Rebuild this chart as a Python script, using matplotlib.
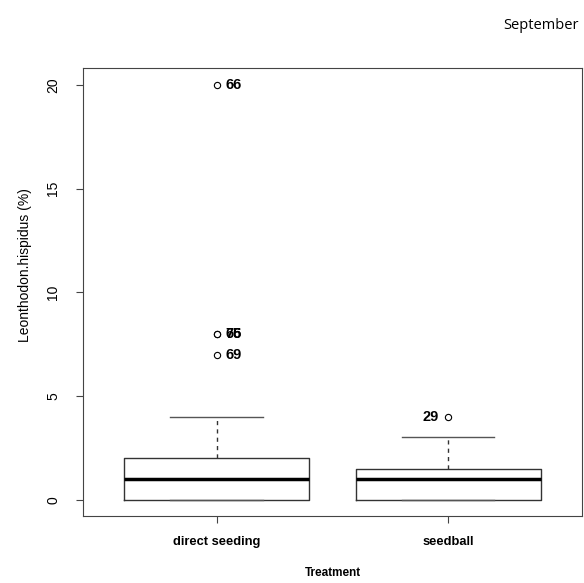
import matplotlib.pyplot as plt

plt.rcParams['font.family'] = ['Liberation Sans', 'DejaVu Sans']

# Summary statistics per treatment
treatments = ['direct seeding', 'seedball']
q1 = [0, 0]
medians = [1, 1]
q3 = [2, 1.5]
whisker_lo = [0, 0]
whisker_hi = [4, 3]
outliers = [[7, 8, 8, 20], [4]]
outlier_labels = [['69', '76', '65', '66'], ['29']]
label_side = [1, -1]

stats = []
for i, name in enumerate(treatments):
    stats.append({'label': name, 'q1': q1[i], 'med': medians[i], 'q3': q3[i],
                  'whislo': whisker_lo[i], 'whishi': whisker_hi[i],
                  'fliers': outliers[i]})

fig = plt.figure(figsize=(5.84, 5.83), dpi=100)
ax = fig.add_axes([0.1413, 0.1144, 0.856, 0.7684])

ax.bxp(stats, positions=[1, 2], widths=0.8,
       boxprops=dict(color='#333333', linewidth=1),
       medianprops=dict(color='black', linewidth=2.5),
       whiskerprops=dict(color='#333333', linewidth=1, linestyle=(0, (3, 3))),
       capprops=dict(color='#555555', linewidth=1),
       flierprops=dict(marker='o', markersize=4.5, markerfacecolor='white',
                       markeredgecolor='black', markeredgewidth=0.8),
       capwidths=0.4)

for i in range(len(treatments)):
    for val, lab in zip(outliers[i], outlier_labels[i]):
        side = label_side[i]
        ax.annotate(lab, (i + 1, val), xytext=(6.5 * side, 0), textcoords='offset points',
                    ha='left' if side > 0 else 'right', va='center',
                    fontsize=10.5, fontweight='bold')

ax.set_xlim(0.42, 2.58)
ax.set_ylim(-0.8, 20.8)
ax.set_yticks([0, 5, 10, 15, 20])
ax.set_yticklabels(['0', '5', '10', '15', '20'], rotation=90, va='center', fontsize=10)
ax.set_xticks([1, 2])
ax.set_xticklabels(treatments, fontsize=9.3, fontweight='bold')
ax.tick_params(axis='y', length=5, pad=11, color='#444444')
ax.tick_params(axis='x', length=5, pad=9, color='#444444')
for s in ax.spines.values():
    s.set_color('#444444')

ax.set_ylabel('Leonthodon.hispidus (%)', fontsize=10)
ax.yaxis.set_label_coords(-0.102, 0.561)
ax.set_xlabel('Treatment', fontsize=8.5, fontweight='bold', labelpad=14)

fig.text(0.991, 0.957, 'September', ha='right', va='center', fontsize=10.5,
         family=['Open Sans', 'DejaVu Sans'])

fig.savefig('out.png', dpi=100)
